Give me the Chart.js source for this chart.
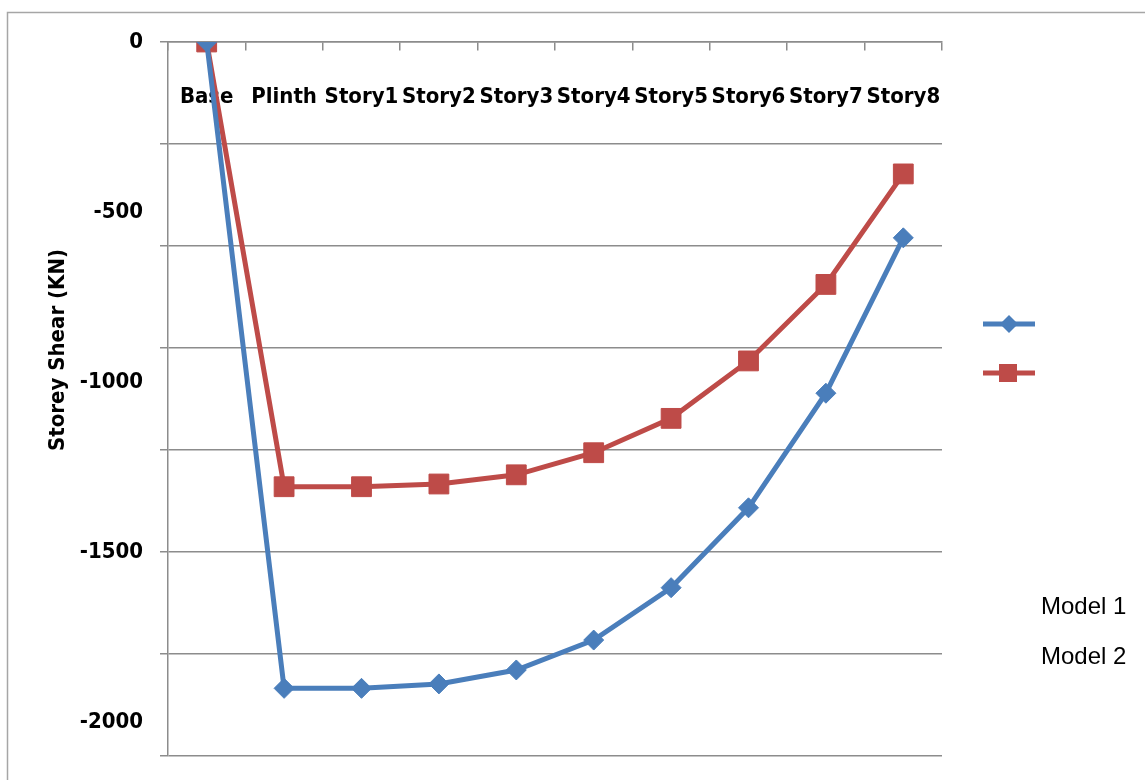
<!DOCTYPE html>
<html>
<head>
<meta charset="utf-8">
<script src="https://cdn.jsdelivr.net/npm/chart.js@4"></script>
<style>
  html, body { margin: 0; padding: 0; background: #fff; }
  #wrap { width: 1145px; height: 780px; }
</style>
</head>
<body>
<div id="wrap"><canvas id="myChart" width="1145" height="780"></canvas></div>
<script>
const labels = ['Base', 'Plinth', 'Story1', 'Story2', 'Story3', 'Story4', 'Story5', 'Story6', 'Story7', 'Story8'];
const model1 = [0, -1901, -1901, -1888, -1847, -1759, -1605, -1370, -1033, -576];
const model2 = [0, -1308, -1308, -1300, -1273, -1208, -1107, -938, -713, -388];
const seriesNames = ['Model 1', 'Model 2'];

const yMin = -2100;
const yMax = 0;
const labelStep = 500;
const gridStep = 300;

const blue = '#4a7ebb';
const red = '#be4b48';
const gridGray = '#8c8c8c';
const boldFont = '"Liberation Sans Narrow", "Arial Narrow", "DejaVu Sans Condensed", sans-serif';

// legend markers and texts, plus the rotated axis title and the outer frame
const extras = {
  id: 'extras',
  beforeDraw(chart) {
    const ctx = chart.ctx;
    ctx.save();
    ctx.strokeStyle = '#a6a6a6';
    ctx.lineWidth = 1.5;
    ctx.strokeRect(7.5, 12.5, 1300, 1000);
    ctx.restore();
  },
  afterDraw(chart) {
    const ctx = chart.ctx;
    ctx.save();
    // y title
    ctx.translate(58, 350);
    ctx.rotate(-Math.PI / 2);
    ctx.font = 'bold 22px ' + boldFont;
    ctx.fillStyle = '#000';
    ctx.textAlign = 'center';
    ctx.textBaseline = 'middle';
    ctx.fillText('Storey Shear (KN)', 0, 0);
    ctx.restore();

    const markY = [324, 373];
    const textY = [607, 657];
    chart.data.datasets.forEach((ds, i) => {
      ctx.save();
      ctx.strokeStyle = ds.borderColor;
      ctx.fillStyle = ds.borderColor;
      ctx.lineWidth = 5;
      ctx.beginPath();
      ctx.moveTo(983, markY[i]);
      ctx.lineTo(1035, markY[i]);
      ctx.stroke();
      if (ds.pointStyle === 'rectRot') {
        ctx.beginPath();
        ctx.moveTo(1009, markY[i] - 9);
        ctx.lineTo(1018, markY[i]);
        ctx.lineTo(1009, markY[i] + 9);
        ctx.lineTo(1000, markY[i]);
        ctx.closePath();
        ctx.fill();
      } else {
        ctx.fillRect(999, markY[i] - 9, 18, 18);
      }
      ctx.fillStyle = '#000';
      ctx.font = '24px "Liberation Sans", Arial, sans-serif';
      ctx.textAlign = 'left';
      ctx.textBaseline = 'middle';
      ctx.fillText(ds.label, 1041, textY[i]);
      ctx.restore();
    });
  }
};

const data = {
  labels: labels,
  datasets: [{
    label: seriesNames[0],
    data: model1,
    borderColor: blue,
    backgroundColor: blue,
    borderWidth: 5,
    pointStyle: 'rectRot',
    pointRadius: 10,
    pointBorderWidth: 1,
    tension: 0
  }, {
    label: seriesNames[1],
    data: model2,
    borderColor: red,
    backgroundColor: red,
    borderWidth: 5,
    pointStyle: 'rect',
    pointRadius: 14,
    pointBorderWidth: 1,
    tension: 0
  }]
};

const config = {
  type: 'line',
  data: data,
  plugins: [extras],
  options: {
    responsive: false,
    animation: false,
    layout: { padding: { left: 0, top: 42, right: 203, bottom: 24 } },
    plugins: {
      legend: { display: false },
      tooltip: { enabled: false }
    },
    scales: {
      x: {
        position: { y: 0 },
        offset: true,
        afterFit: s => { s.height = 0; s.paddingLeft = 0; s.paddingRight = 0; },
        grid: {
          offset: true,
          drawOnChartArea: false,
          tickLength: 8,
          color: gridGray,
          lineWidth: 1.5
        },
        border: { display: true, color: gridGray, width: 1.5 },
        ticks: {
          padding: 34,
          maxRotation: 0,
          autoSkip: false,
          color: '#000',
          font: { family: boldFont, size: 22, weight: 'bold' }
        }
      },
      y: {
        position: 'left',
        min: yMin,
        max: yMax,
        afterFit: s => { s.width = 168; s.paddingTop = 0; s.paddingBottom = 0; },
        grid: {
          tickLength: 8,
          lineWidth: 1.5,
          color: c => (Math.round(c.tick.value) % gridStep === 0 ? gridGray : 'rgba(0,0,0,0)')
        },
        border: { display: true, color: gridGray, width: 1.5 },
        ticks: {
          stepSize: 100,
          autoSkip: false,
          padding: 17,
          color: '#000',
          font: { family: boldFont, size: 22, weight: 'bold' },
          callback: v => (Math.round(v) % labelStep === 0 ? String(Math.round(v)) : '')
        }
      }
    }
  }
};

const myChart = new Chart(document.getElementById('myChart'), config);
</script>
</body>
</html>
